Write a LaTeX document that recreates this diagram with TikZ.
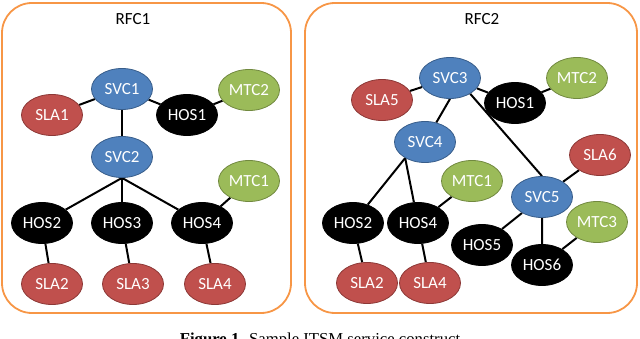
\documentclass[tikz,border=0pt]{standalone}
\usepackage{fontspec}
\setmainfont{Liberation Serif}
\newfontfamily\officefont{Carlito}
\usetikzlibrary{shapes.geometric,backgrounds}
\definecolor{svcfill}{HTML}{4F81BD}
\definecolor{svcline}{HTML}{385D8A}
\definecolor{slafill}{HTML}{C0504D}
\definecolor{slaline}{HTML}{8C3836}
\definecolor{mtcfill}{HTML}{9BBB59}
\definecolor{mtcline}{HTML}{71893F}
\definecolor{rfcline}{HTML}{F79646}
\tikzset{
  knot/.style={ellipse,minimum width=61pt,minimum height=41pt,inner sep=0pt,
    line width=0.8pt,text=white,font=\officefont\fontsize{17}{19}\selectfont},
  svc/.style={knot,draw=svcline,fill=svcfill},
  sla/.style={knot,draw=slaline,fill=slafill},
  mtc/.style={knot,draw=mtcline,fill=mtcfill},
  hos/.style={knot,draw=black,fill=black},
  link/.style={line width=2pt},
  rfcbox/.style={draw=rfcline,line width=1.8pt,rounded corners=30pt},
  rfctitle/.style={font=\officefont\fontsize{17}{19}\selectfont},
}

\begin{document}
\begin{tikzpicture}[x=1pt,y=-1pt]
\useasboundingbox (0,0) rectangle (640,339);
\clip (0,0) rectangle (640,339);
% RFC1
\draw[rfcbox] (2,3) rectangle (291,313);
\node[rfctitle] (t1) at (133,19) {RFC1};
\node[svc] (svc1) at (122,89) {SVC1};
\node[sla] (sla1) at (52,115) {SLA1};
\node[hos] (hos1) at (187,115) {HOS1};
\node[mtc] (mtc2) at (249,90) {MTC2};
\node[svc] (svc2) at (122,157) {SVC2};
\node[mtc] (mtc1) at (249,181) {MTC1};
\node[hos] (hos2) at (42,223) {HOS2};
\node[hos] (hos3) at (122,223) {HOS3};
\node[hos] (hos4) at (202,223) {HOS4};
\node[sla] (sla2) at (52,284) {SLA2};
\node[sla] (sla3) at (133,284) {SLA3};
\node[sla] (sla4) at (215,284) {SLA4};
\begin{scope}[on background layer]
  \draw[link] (svc1) -- (sla1);
  \draw[link] (svc1) -- (hos1) -- (mtc2);
  \draw[link] (svc1) -- (svc2);
  \draw[link] (svc2.south) -- (hos2);
  \draw[link] (svc2.south) -- (hos3);
  \draw[link] (svc2.south) -- (hos4);
  \draw[link] (hos4) -- (mtc1);
  \draw[link] (hos2) -- (sla2);
  \draw[link] (hos3) -- (sla3);
  \draw[link] (hos4) -- (sla4);
\end{scope}
% RFC2
\draw[rfcbox] (305,3) rectangle (637,313);
\node[rfctitle] (t2) at (482,19) {RFC2};
\node[svc] (svc3) at (450,78) {SVC3};
\node[sla] (sla5) at (382,100) {SLA5};
\node[hos] (hosb1) at (515,103) {HOS1};
\node[mtc] (mtcb2) at (577,78) {MTC2};
\node[svc] (svc4) at (425,142) {SVC4};
\node[sla] (sla6) at (600,155) {SLA6};
\node[mtc] (mtcb1) at (472,181) {MTC1};
\node[svc] (svc5) at (542,197) {SVC5};
\node[hos] (hosb2) at (353,223) {HOS2};
\node[hos] (hosb4) at (418,223) {HOS4};
\node[mtc] (mtc3) at (597,222) {MTC3};
\node[hos] (hos5) at (482,245) {HOS5};
\node[hos] (hos6) at (542,265) {HOS6};
\node[sla] (slab2) at (367,283) {SLA2};
\node[sla] (slab4) at (430,283) {SLA4};
\begin{scope}[on background layer]
  \draw[link] (svc3) -- (sla5);
  \draw[link] (svc3) -- (hosb1) -- (mtcb2);
  \draw[link] (svc3.south) -- (svc4);
  \draw[link] (svc3.322) -- (svc5.north);
  \draw[link] (svc4.219) -- (hosb2);
  \draw[link] (svc4.219) -- (hosb4);
  \draw[link] (hosb4) -- (mtcb1);
  \draw[link] (hosb2) -- (slab2);
  \draw[link] (hosb4) -- (slab4);
  \draw[link] (svc5) -- (sla6);
  \draw[link] (svc5) -- (hos5);
  \draw[link] (svc5) -- (hos6) -- (mtc3);
\end{scope}
% caption
\node[anchor=base,font=\fontsize{16.7}{19}\selectfont] (cap) at (320,344)
  {\textbf{Figure 1.} Sample ITSM service construct};
\end{tikzpicture}
\end{document}
